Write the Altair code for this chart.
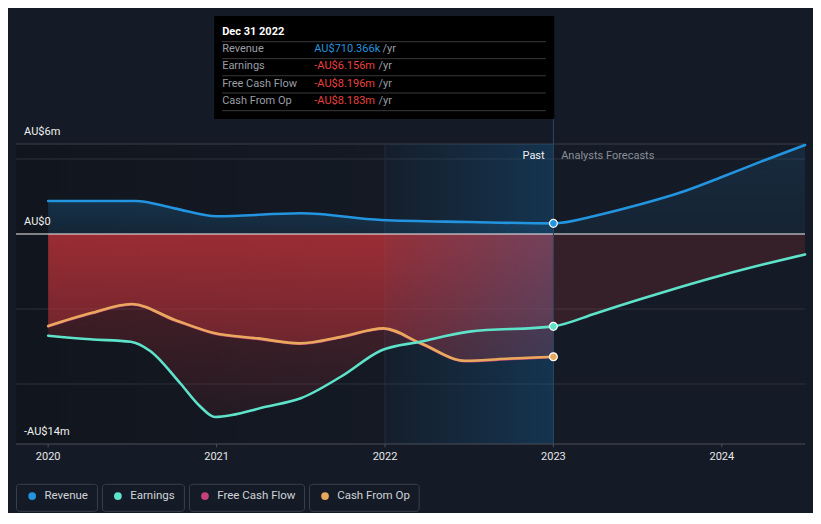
import altair as alt
import pandas as pd

BG = "#151b26"
FONT = "Roboto"

# ---------------- data (AU$ millions, decimal years) ----------------
rev_past_x = [2020.0, 2020.25, 2020.52, 2020.75, 2021.0, 2021.5, 2021.98, 2022.5, 2023.0]
rev_past_y = [2.2, 2.2, 2.2, 1.71, 1.18, 1.38, 0.93, 0.80, 0.710]
rev_fc_x = [2023.0, 2023.25, 2023.5, 2023.75, 2024.0, 2024.25, 2024.494]
rev_fc_y = [0.710, 1.22, 1.93, 2.75, 3.8, 4.9, 5.93]

earn_past_x = [2020.0, 2020.25, 2020.49, 2020.606, 2020.784, 2020.903, 2020.99, 2021.3, 2021.5,
               2021.74, 2021.98, 2022.21, 2022.5, 2023.0]
earn_past_y = [-6.78, -7.02, -7.18, -7.8, -9.95, -11.5, -12.2, -11.5, -10.95,
               -9.5, -7.75, -7.18, -6.51, -6.156]
earn_fc_x = [2023.0, 2023.25, 2023.5, 2023.75, 2024.0, 2024.25, 2024.494]
earn_fc_y = [-6.156, -5.3, -4.4, -3.55, -2.75, -2.02, -1.36]

cfo_x = [2020.0, 2020.249, 2020.497, 2020.753, 2020.979, 2021.246, 2021.496, 2021.746,
         2021.99, 2022.21, 2022.477, 2022.75, 2023.0]
cfo_y = [-6.13, -5.29, -4.67, -5.73, -6.58, -6.96, -7.29, -6.84,
         -6.29, -7.27, -8.45, -8.3, -8.183]
fcf_x = [2020.0, 2020.249, 2020.497, 2020.753, 2020.979, 2021.246, 2021.496, 2021.746,
         2021.99, 2022.21, 2022.477, 2022.75, 2023.0]
fcf_y = [-6.16, -5.32, -4.70, -5.76, -6.61, -6.99, -7.32, -6.87,
         -6.32, -7.30, -8.48, -8.33, -8.196]

year_ticks = [2020, 2021, 2022, 2023, 2024]
y_label_vals = [6, 0, -14]
y_label_text = ["AU$6m", "AU$0", "-AU$14m"]
grid_vals = [6, 5, -5, -10]

tip_title = "Dec 31 2022"
tip_labels = ["Revenue", "Earnings", "Free Cash Flow", "Cash From Op"]
tip_values = ["AU$710.366k", "-AU$6.156m", "-AU$8.196m", "-AU$8.183m"]

legend_names = ["Revenue", "Earnings", "Free Cash Flow", "Cash From Op"]
C_REV, C_EARN, C_FCF, C_CFO = "#2394df", "#5ee3cb", "#c4417e", "#e8a95c"
legend_colors = [C_REV, C_EARN, C_FCF, C_CFO]

# ---------------- scales ----------------
XMIN, XMAX = 2019.809, 2024.494
YMIN, YMAX = -18.6, 15.0667
xs = alt.Scale(domain=[XMIN, XMAX], nice=False, zero=False)
ys = alt.Scale(domain=[YMIN, YMAX], nice=False, zero=False)


def X(f="x"):
    return alt.X(f"{f}:Q", scale=xs, axis=None)


def Y(f="y"):
    return alt.Y(f"{f}:Q", scale=ys, axis=None)


def df(**kw):
    return pd.DataFrame(kw)


def grad(c0, c1, vertical=True):
    return alt.Gradient(
        gradient="linear",
        x1=0, y1=0,
        x2=0 if vertical else 1, y2=1 if vertical else 0,
        stops=[alt.GradientStop(color=c0, offset=0), alt.GradientStop(color=c1, offset=1)],
    )


layers = []

# past dark shading
layers.append(alt.Chart(df(x=[XMIN], x2=[2022.0], y=[6.0], y2=[-14.0])).mark_rect(
    color=grad("rgba(0,0,0,0.22)", "rgba(0,0,0,0.06)", vertical=False)
).encode(x=X(), x2="x2:Q", y=Y(), y2="y2:Q"))

# gridlines
layers.append(alt.Chart(df(y=grid_vals, x=[XMIN] * 4, x2=[XMAX] * 4,
                           c=["#3a3f48", "#2c313a", "#2c313a", "#2c313a"])).mark_rule(strokeWidth=1).encode(
    x=X(), x2="x2:Q", y=Y(), color=alt.Color("c:N", scale=None)))

# faint marker at start of last year
layers.append(alt.Chart(df(x=[2022.0], y=[6.0], y2=[-14.0])).mark_rule(color="#252d39", strokeWidth=1).encode(
    x=X(), y=Y(), y2="y2:Q"))

# revenue areas
layers.append(alt.Chart(df(x=rev_past_x, y=rev_past_y, y2=[0] * len(rev_past_x))).mark_area(
    interpolate="monotone", color=grad("rgba(35,148,223,0.22)", "rgba(35,148,223,0.12)")
).encode(x=X(), y=Y(), y2="y2:Q"))
layers.append(alt.Chart(df(x=rev_fc_x, y=rev_fc_y, y2=[0] * len(rev_fc_x))).mark_area(
    interpolate="monotone", color=grad("rgba(35,148,223,0.13)", "rgba(35,148,223,0.07)")
).encode(x=X(), y=Y(), y2="y2:Q"))

# negative areas
layers.append(alt.Chart(df(x=earn_past_x, y=earn_past_y, y2=[0] * len(earn_past_x))).mark_area(
    interpolate="monotone", color=grad("rgba(205,50,55,0.36)", "rgba(205,50,55,0.09)")
).encode(x=X(), y=Y(), y2="y2:Q"))
layers.append(alt.Chart(df(x=fcf_x, y=fcf_y, y2=[0] * len(fcf_x))).mark_area(
    interpolate="monotone", color=grad("rgba(205,50,70,0.15)", "rgba(205,50,70,0.08)")
).encode(x=X(), y=Y(), y2="y2:Q"))
layers.append(alt.Chart(df(x=cfo_x, y=cfo_y, y2=[0] * len(cfo_x))).mark_area(
    interpolate="monotone", color=grad("rgba(215,55,60,0.45)", "rgba(215,55,60,0.25)")
).encode(x=X(), y=Y(), y2="y2:Q"))
layers.append(alt.Chart(df(x=earn_fc_x, y=earn_fc_y, y2=[0] * len(earn_fc_x))).mark_area(
    interpolate="monotone", color="rgba(200,55,60,0.18)"
).encode(x=X(), y=Y(), y2="y2:Q"))

# last-year highlight overlay
layers.append(alt.Chart(df(x=[2022.0], x2=[2023.0], y=[6.0], y2=[-14.0])).mark_rect(
    color=grad("rgba(20,110,175,0.04)", "rgba(20,110,175,0.30)", vertical=False)
).encode(x=X(), x2="x2:Q", y=Y(), y2="y2:Q"))

# zero line
layers.append(alt.Chart(df(x=[XMIN], x2=[XMAX], y=[0.0])).mark_rule(color="#f2f2f2", strokeWidth=1).encode(
    x=X(), x2="x2:Q", y=Y()))

# present marker
layers.append(alt.Chart(df(x=[2023.0], y=[7.667], y2=[-14.0])).mark_rule(color="#2b4760", strokeWidth=1).encode(
    x=X(), y=Y(), y2="y2:Q"))

# lines
def line(xv, yv, c):
    return alt.Chart(df(x=xv, y=yv)).mark_line(
        interpolate="monotone", color=c, strokeWidth=2.6, strokeCap="round").encode(x=X(), y=Y())

layers.append(line(fcf_x, fcf_y, C_FCF))
layers.append(line(cfo_x, cfo_y, C_CFO))
layers.append(line(earn_past_x + earn_fc_x[1:], earn_past_y + earn_fc_y[1:], C_EARN))
layers.append(line(rev_past_x + rev_fc_x[1:], rev_past_y + rev_fc_y[1:], C_REV))

# end-of-past dots
layers.append(alt.Chart(df(x=[2023.0] * 3, y=[rev_past_y[-1], earn_past_y[-1], cfo_y[-1]],
                           c=[C_REV, C_EARN, C_CFO])).mark_circle(
    size=62, opacity=1, stroke="#ffffff", strokeWidth=1.2).encode(
    x=X(), y=Y(), color=alt.Color("c:N", scale=None)))

# x axis (drawn)
layers.append(alt.Chart(df(x=[XMIN], x2=[XMAX], y=[-14.0])).mark_rule(color="#4a4f58", strokeWidth=1).encode(
    x=X(), x2="x2:Q", y=Y()))
layers.append(alt.Chart(df(x=year_ticks, y=[-14.0] * 5, y2=[-14.22] * 5)).mark_rule(
    color="#4a4f58", strokeWidth=1).encode(x=X(), y=Y(), y2="y2:Q"))
layers.append(alt.Chart(df(x=year_ticks, y=[-14.887] * 5, t=[str(v) for v in year_ticks])).mark_text(
    font=FONT, fontSize=11, color="#e6e6e6", align="center", baseline="middle").encode(
    x=X(), y=Y(), text="t:N"))

# y labels
layers.append(alt.Chart(df(x=[2019.857] * 3, y=[v + 0.78 for v in y_label_vals], t=y_label_text)).mark_text(
    font=FONT, fontSize=11, color="#f0f0f0", align="left", baseline="middle").encode(
    x=X(), y=Y(), text="t:N"))

# Past / forecast labels
layers.append(alt.Chart(df(x=[2022.948], y=[5.2], t=["Past"])).mark_text(
    font=FONT, fontSize=11, color="#f0f0f0", align="right", baseline="middle").encode(x=X(), y=Y(), text="t:N"))
layers.append(alt.Chart(df(x=[2023.046], y=[5.2], t=["Analysts Forecasts"])).mark_text(
    font=FONT, fontSize=11, color="#8a8f98", align="left", baseline="middle").encode(x=X(), y=Y(), text="t:N"))

# tooltip box
layers.append(alt.Chart(df(x=[2020.986], x2=[2023.005], y=[14.533], y2=[7.667])).mark_rect(
    color="#000000").encode(x=X(), x2="x2:Q", y=Y(), y2="y2:Q"))
sep_y = [12.82, 11.69, 10.55, 9.4, 8.22]
layers.append(alt.Chart(df(y=sep_y, x=[2021.033] * 5, x2=[2022.955] * 5)).mark_rule(
    color="#3a3a3a", strokeWidth=1).encode(x=X(), x2="x2:Q", y=Y()))
layers.append(alt.Chart(df(x=[2021.033], y=[13.487], t=[tip_title])).mark_text(
    font=FONT, fontSize=11, fontWeight="bold", color="#ffffff", align="left", baseline="middle").encode(
    x=X(), y=Y(), text="t:N"))
row_y = [12.31, 11.18, 10.0, 8.89]
layers.append(alt.Chart(df(x=[2021.033] * 4, y=row_y, t=tip_labels)).mark_text(
    font=FONT, fontSize=11, color="#9a9ea5", align="left", baseline="middle").encode(
    x=X(), y=Y(), text="t:N"))
layers.append(alt.Chart(df(x=[2021.58] * 4, y=row_y, t=tip_values,
                           c=[C_REV, "#e8413f", "#e8413f", "#e8413f"])).mark_text(
    font=FONT, fontSize=11, align="left", baseline="middle").encode(
    x=X(), y=Y(), text="t:N", color=alt.Color("c:N", scale=None)))
layers.append(alt.Chart(df(x=[2021.985, 2021.961, 2021.961, 2021.961], y=row_y, t=["/yr"] * 4)).mark_text(
    font=FONT, fontSize=11, color="#9a9ea5", align="left", baseline="middle").encode(
    x=X(), y=Y(), text="t:N"))

# legend
lg_x0 = [2019.812, 2020.322, 2020.839, 2021.552]
lg_x1 = [2020.293, 2020.809, 2021.522, 2022.203]
lg_dot = [2019.905, 2020.414, 2020.931, 2021.644]
lg_txt = [2019.978, 2020.487, 2021.004, 2021.716]
layers.append(alt.Chart(df(x=lg_x0, x2=lg_x1, y=[-16.687] * 4, y2=[-18.487] * 4)).mark_rect(
    fill=BG, stroke="#3a404b", strokeWidth=1, cornerRadius=3).encode(
    x=X(), x2="x2:Q", y=Y(), y2="y2:Q"))
layers.append(alt.Chart(df(x=lg_dot, y=[-17.467] * 4, c=legend_colors)).mark_circle(
    size=60, opacity=1).encode(x=X(), y=Y(), color=alt.Color("c:N", scale=None)))
layers.append(alt.Chart(df(x=lg_txt, y=[-17.467] * 4, t=legend_names)).mark_text(
    font=FONT, fontSize=11.5, color="#cfd3d8", align="left", baseline="middle").encode(
    x=X(), y=Y(), text="t:N"))

chart = alt.layer(*layers).properties(
    width=789, height=505, autosize="none",
    padding={"left": 8, "right": 8, "top": 0, "bottom": 0},
    background=BG,
).configure_view(stroke=None)

chart.save("out.html", embed_options={"renderer": "svg", "actions": False})
